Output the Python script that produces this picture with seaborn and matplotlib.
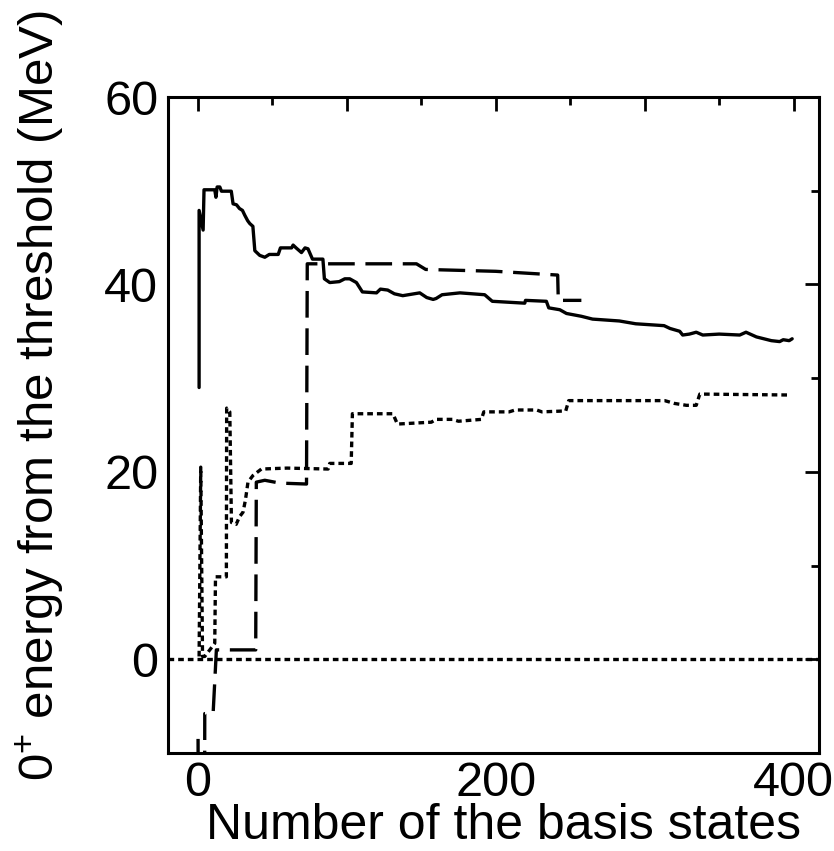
import numpy as np
import pandas as pd
import matplotlib
matplotlib.use("Agg")
import matplotlib.pyplot as plt
import seaborn as sns
from matplotlib.ticker import MultipleLocator, FuncFormatter

# Solid curve
solid_x = [0.9, 0.9, 3.6, 4.2, 11.4, 12.2, 13, 14.8, 15.9, 22.5, 23.7, 26, 28, 30, 31.5,
           33.5, 34.9, 37, 38.3, 41.6, 45, 48, 54, 55.5, 63, 64, 66, 69.6, 72, 74, 77, 84,
           85, 88.6, 95, 98.7, 102, 106.5, 110.5, 120, 122.6, 127.5, 132, 137.6, 149,
           153.7, 158, 160, 164, 176, 192.6, 197.7, 219.5, 220, 234, 235.6, 243, 247.5,
           257.5, 265, 283, 294, 313, 317, 323.5, 325.5, 330, 334.6, 339, 350, 363.8, 368,
           375, 385, 390.6, 393, 397, 399]
solid_y = [29.0, 47.9, 45.8, 50.1, 50.1, 49.3, 50.4, 50.4, 49.95, 49.95, 48.6, 48.5, 48.1,
           47.9, 47.4, 46.8, 46.5, 46.2, 43.6, 43.1, 42.9, 43.2, 43.2, 43.9, 43.9, 44.2,
           43.9, 43.4, 43.9, 43.8, 42.7, 42.7, 40.6, 40.2, 40.3, 40.6, 40.6, 40.2, 39.2,
           39.1, 39.5, 39.4, 39.0, 38.8, 39.1, 38.6, 38.4, 38.5, 38.9, 39.1, 38.9, 38.2,
           38.0, 38.3, 38.2, 37.5, 37.3, 36.9, 36.6, 36.3, 36.1, 35.8, 35.6, 35.3, 35.0,
           34.6, 34.7, 34.9, 34.6, 34.7, 34.6, 34.9, 34.4, 34.0, 33.9, 34.1, 34.0, 34.2]

# Long-dashed curve
dash_x = [0.2, 0.5, 4.5, 4.7, 10.3, 12.5, 38.9, 39.3, 45, 55, 73, 73.5, 146.8, 153, 200,
          241.6, 242, 257.5]
dash_y = [-8.5, -25, -25, -5.8, -5.8, 1.0, 1.0, 18.9, 19.1, 18.8, 18.7, 42.2, 42.2, 41.6,
          41.4, 41.0, 38.3, 38.3]

# Dotted curve
dot_x = [0.9, 2.0, 3.2, 4.7, 11.4, 11.9, 19.2, 19.4, 21.5, 22.6, 25.8, 28, 30.4, 32, 33.7,
         37, 42.7, 60, 87.5, 88.6, 103, 103.8, 131, 134, 156.8, 160, 171, 175, 190.4, 192,
         209, 213, 227.5, 231, 247, 249, 313.4, 320, 328, 334.6, 337, 397]
dot_y = [0.3, 20.5, 0.3, 0.3, 1.7, 8.8, 8.8, 26.8, 26.4, 14.6, 14.4, 15.2, 15.7, 17, 18.9,
         19.6, 20.3, 20.4, 20.3, 20.9, 20.9, 26.2, 26.2, 25.1, 25.3, 25.6, 25.6, 25.4, 25.6,
         26.4, 26.4, 26.6, 26.6, 26.4, 26.5, 27.6, 27.6, 27.3, 27.1, 27.1, 28.3, 28.2]

# Threshold
thr_x = [-20, 417]
thr_y = [0, 0]

sns.set_theme(style="white")
plt.rcParams['font.family'] = ['Liberation Sans', 'DejaVu Sans']
plt.rcParams['mathtext.fontset'] = 'custom'
plt.rcParams['mathtext.rm'] = 'Liberation Sans'
plt.rcParams['mathtext.it'] = 'Liberation Sans'

fig = plt.figure(figsize=(8.34, 8.51), dpi=100)
ax = fig.add_axes([0.2014, 0.1152, 0.7806, 0.7708])

lw = 2.4
common = dict(sort=False, estimator=None, color='black', linewidth=lw, ax=ax)
sns.lineplot(x=solid_x, y=solid_y, linestyle='-', **common)
sns.lineplot(x=dash_x, y=dash_y, linestyle=(0, (8, 3.2)), **common)
sns.lineplot(x=dot_x, y=dot_y, linestyle=(0, (1.7, 1.2)), **common)
sns.lineplot(x=thr_x, y=thr_y, linestyle=(0, (1.7, 1.2)), **common)

ax.set_xlim(-20, 417)
ax.set_ylim(-10, 60)

ax.xaxis.set_major_locator(MultipleLocator(100))
ax.xaxis.set_minor_locator(MultipleLocator(50))
ax.xaxis.set_major_formatter(FuncFormatter(lambda v, p: f"{v:.0f}" if v % 200 == 0 else ""))
ax.yaxis.set_major_locator(MultipleLocator(20))
ax.yaxis.set_minor_locator(MultipleLocator(10))

ax.tick_params(which='both', direction='in', top=True, right=True, width=2, color='black',
               labelsize=35, labelcolor='black')
ax.tick_params(which='major', length=10)
ax.tick_params(which='minor', length=6)
ax.tick_params(axis='x', which='major', pad=6)
ax.tick_params(axis='y', which='major', pad=7)

for sp in ax.spines.values():
    sp.set_linewidth(2.2)
    sp.set_color('black')

ax.set_xlabel('Number of the basis states', fontsize=36, color='black')
ax.set_ylabel('0$^{+}$ energy from the threshold (MeV)', fontsize=35.5, color='black')
ax.xaxis.set_label_coords(0.516, -0.077)
ax.yaxis.set_label_coords(-0.157, 0.545)

fig.savefig('out.png', dpi=100, facecolor='white')
